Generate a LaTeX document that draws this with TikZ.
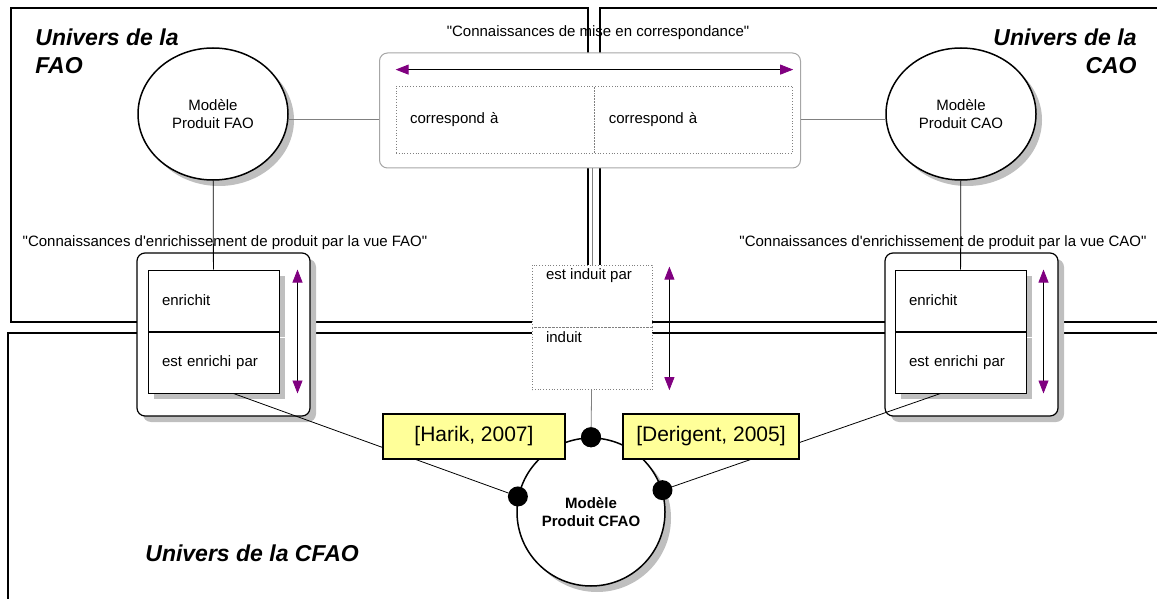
\documentclass[tikz,border=0pt]{standalone}
\usepackage{fontspec}
\setmainfont{Liberation Sans}[Ligatures=TeXOff]
\usetikzlibrary{shapes.geometric, arrows.meta, positioning, shadows, calc}
\definecolor{tipviolet}{RGB}{128,0,128}
\definecolor{refyellow}{RGB}{255,255,153}

\begin{document}
\begin{tikzpicture}[
        x=0.5pt, y=-0.5pt,
        >={Triangle[width=5pt, length=6.5pt, color=tipviolet]},
        font=\fontsize{7.5}{9}\selectfont,
        frame/.style={line width=1pt},
        universe/.style={font=\fontsize{11.5}{14}\selectfont\bfseries\itshape, inner sep=0pt},
        shade/.style={drop shadow={shadow xshift=3pt, shadow yshift=-3pt, fill=black!25, opacity=1}},
        model/.style={draw, ellipse, line width=0.75pt, fill=white, minimum width=75pt, minimum height=66pt, align=center, inner sep=0pt, shade},
        holder/.style={draw, rectangle, rounded corners=4pt, line width=0.6pt, fill=white, minimum width=86.5pt, minimum height=81.5pt, shade},
        cell/.style={draw, rectangle, line width=0.5pt, fill=white, minimum width=65.5pt, minimum height=30.5pt, text width=51.5pt, inner xsep=7pt, align=left, shade},
        matchbox/.style={draw=gray!70, rectangle, rounded corners=4pt, line width=0.5pt, fill=white, minimum width=210.5pt, minimum height=57.5pt},
        matchcell/.style={draw=gray, densely dotted, rectangle, line width=0.4pt, fill=white, minimum width=99pt, minimum height=33.5pt, text width=85pt, inner xsep=7pt, align=left},
        induit/.style={draw=gray, densely dotted, rectangle, line width=0.4pt, fill=white, minimum width=60pt, minimum height=31pt},
        ref/.style={draw, rectangle, line width=0.75pt, fill=refyellow, minimum height=22.5pt, font=\fontsize{10.5}{12}\selectfont},
        dot/.style={circle, fill=black, inner sep=0pt, minimum size=10pt},
        link/.style={draw=gray, line width=0.4pt},
        tie/.style={draw, line width=0.4pt},
        both/.style={<->, line width=0.4pt}
    ]
        \useasboundingbox (0,0) rectangle (1157,599);

        % Universe frames
        \draw[frame] (11,322) -- (11,8) -- (588,8) -- (588,322) -- cycle;
        \draw[frame] (1157,8) -- (600,8) -- (600,322) -- (1157,322);
        \draw[frame] (8,599) -- (8,333) -- (1157,333);
        \node[universe, anchor=north west, align=left] (uFAO) at (35,28) {Univers de la\\FAO};
        \node[universe, anchor=north east, align=right] (uCAO) at (1137,28) {Univers de la\\CAO};
        \node[universe, anchor=west] (uCFAO) at (145,553) {Univers de la CFAO};

        % Mise en correspondance (top)
        \node (matchlbl) at (598,33) {"Connaissances de mise en correspondance"};
        \node[matchbox] (topbox) at (590,110.5) {};
        \node[matchcell] (cellL) at (495,119.5) {correspond à};
        \node[matchcell, right=0pt of cellL] (cellR) {correspond à};
        \coordinate (matchA) at ($(cellL.north west)+(0,-16)$);
        \coordinate (matchB) at ($(cellR.north east)+(0,-16)$);
        \draw[both] (matchA) -- (matchB);

        % Product models
        \node[model] (faoM) at (213,114) {Modèle\\Produit FAO};
        \node[model] (caoM) at (961,114) {Modèle\\Produit CAO};

        % Enrichissement FAO
        \node (enrichFAO) at (225,243) {"Connaissances d'enrichissement de produit par la vue FAO"};
        \node[holder] (holdL) at (223.5,334.5) {};
        \node[cell] (enrL) at (213.5,300.5) {enrichit};
        \node[cell, below=0pt of enrL] (estL) {est enrichi par};
        \coordinate (upL) at ($(enrL.north east)+(18,0)$);
        \coordinate (dnL) at ($(estL.south east)+(18,0)$);
        \draw[both] (upL) -- (dnL);

        % Enrichissement CAO
        \node (enrichCAO) at (943,243) {"Connaissances d'enrichissement de produit par la vue CAO"};
        \node[holder] (holdR) at (971.5,334.5) {};
        \node[cell] (enrR) at (960.5,300.5) {enrichit};
        \node[cell, below=0pt of enrR] (estR) {est enrichi par};
        \coordinate (upR) at ($(enrR.north east)+(17,0)$);
        \coordinate (dnR) at ($(estR.south east)+(17,0)$);
        \draw[both] (upR) -- (dnR);

        % Induction (middle)
        \node[induit, label={[anchor=north west, inner sep=1pt, xshift=6pt, yshift=-1pt]north west:est induit par}] (induitA) at (592,296) {};
        \node[induit, below=0pt of induitA, label={[anchor=north west, inner sep=1pt, xshift=6pt, yshift=-1pt]north west:induit}] (induitB) {};
        \coordinate (upM) at ($(induitA.north east)+(17,2)$);
        \coordinate (dnM) at ($(induitB.south east)+(17,0)$);
        \draw[both] (upM) -- (dnM);

        % CFAO model
        \node[draw, circle, line width=0.75pt, fill=white, minimum size=74pt, inner sep=0pt, align=center, shade, font=\fontsize{7.5}{9}\selectfont\bfseries] (cfaoM) at (591,512) {Modèle\\Produit CFAO};

        % Connectors
        \draw[link] (faoM.east |- cellL) -- (topbox.west |- cellL);
        \draw[link] (caoM.west |- cellR) -- (topbox.east |- cellR);
        \draw[link] (induitA.north |- topbox.south) -- (induitA.north);
        \draw[tie] (faoM) -- (enrL);
        \draw[tie] (caoM) -- (enrR);
        \node[dot] (dotTop) at (cfaoM.90) {};
        \node[dot] (dotL) at (cfaoM.168) {};
        \node[dot] (dotR) at (cfaoM.17) {};
        \draw[link] (induitB) -- (dotTop);
        \draw[tie] ([xshift=10pt]estL.south) -- (dotL);
        \draw[tie] ([xshift=-10pt]estR.south) -- (dotR);

        % References
        \node[ref, minimum width=91pt] (harik) at (474,436.5) {[Harik, 2007]};
        \node[ref, minimum width=88pt] (derigent) at (711,436.5) {[Derigent, 2005]};
        \node[dot] at (dotTop) {};
    \end{tikzpicture}
\end{document}
